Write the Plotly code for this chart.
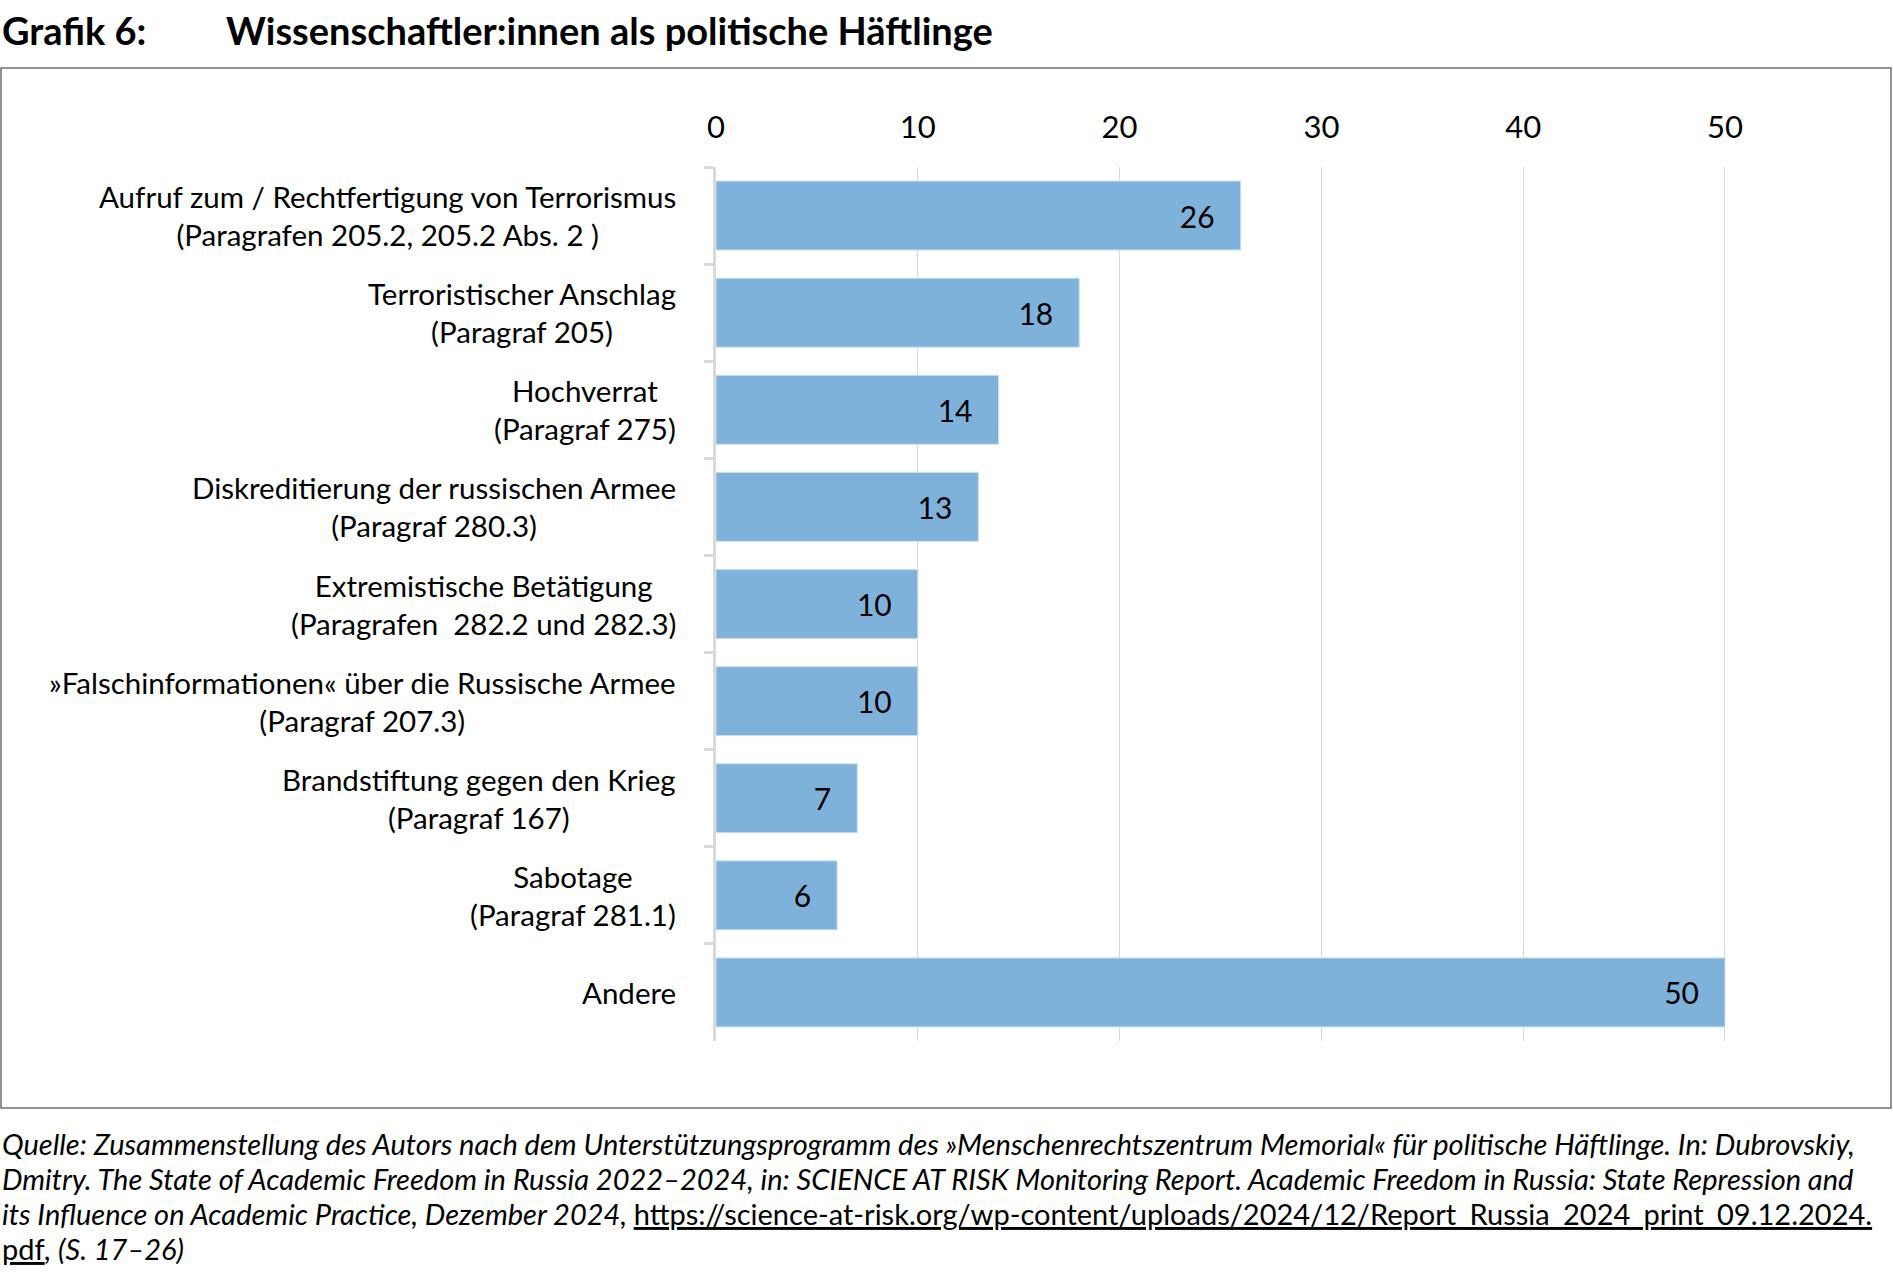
import plotly.graph_objects as go

categories = [
    "Aufruf zum / Rechtfertigung von Terrorismus<br>(Paragrafen 205.2, 205.2 Abs. 2 )",
    "Terroristischer Anschlag<br>(Paragraf 205)",
    "Hochverrat<br>(Paragraf 275)",
    "Diskreditierung der russischen Armee<br>(Paragraf 280.3)",
    "Extremistische Betätigung<br>(Paragrafen\u00a0 282.2 und 282.3)",
    "»Falschinformationen« über die Russische Armee<br>(Paragraf 207.3)",
    "Brandstiftung gegen den Krieg<br>(Paragraf 167)",
    "Sabotage<br>(Paragraf 281.1)",
    "Andere",
]
values = [26, 18, 14, 13, 10, 10, 7, 6, 50]
x_ticks = [0, 10, 20, 30, 40, 50]

title_prefix = "Grafik 6:"
title_text = "Wissenschaftler:innen als politische Häftlinge"
source_lines = [
    "<i>Quelle: Zusammenstellung des Autors nach dem Unterstützungsprogramm des »Menschenrechtszentrum Memorial« für politische Häftlinge. In: Dubrovskiy,</i>",
    "<i>Dmitry. The State of Academic Freedom in Russia 2022–2024, in: SCIENCE AT RISK Monitoring Report. Academic Freedom in Russia: State Repression and</i>",
    "<i>its Influence on Academic Practice, Dezember 2024, </i><span style=\"text-decoration:underline\">https://science-at-risk.org/wp-content/uploads/2024/12/Report_Russia_2024_print_09.12.2024.</span>",
    "<span style=\"text-decoration:underline\">pdf</span><i>, (S. 17–26)</i>",
]

W, H = 1893, 1277
ML, MR, MT, MB = 716, 167, 167, 236
PW, PH = W - ML - MR, H - MT - MB


def px(x):
    return (x - ML) / PW


def py(y):
    return (H - MB - y) / PH


FONT = "Lato, 'Open Sans', sans-serif"
BAR = "#7fb2da"
GRID = "#d9d9d9"
LABEL_SIZE = 29.5

fig = go.Figure(
    go.Bar(
        x=values,
        y=categories,
        orientation="h",
        marker=dict(color=BAR, line=dict(color="#c9dff0", width=1)),
        texttemplate="%{x}\u00a0\u00a0\u00a0",
        textposition="inside",
        insidetextanchor="end",
        textfont=dict(family=FONT, size=30, color="black"),
        width=0.71,
        hoverinfo="skip",
    )
)

annotations = []
for c in categories:
    annotations.append(dict(
        x=0, y=c, xref="x", yref="y", text=c, showarrow=False,
        xanchor="right", yanchor="middle", align="center", xshift=-38,
        font=dict(family=FONT, size=LABEL_SIZE, color="black"),
    ))

annotations.append(dict(
    x=px(0), y=py(30), xref="paper", yref="paper", text="<b>" + title_prefix + "</b>",
    showarrow=False, xanchor="left", yanchor="middle",
    font=dict(family=FONT, size=38, color="black"),
))
annotations.append(dict(
    x=px(224), y=py(30), xref="paper", yref="paper", text="<b>" + title_text + "</b>",
    showarrow=False, xanchor="left", yanchor="middle",
    font=dict(family=FONT, size=38, color="black"),
))
for k, ln in enumerate(source_lines):
    annotations.append(dict(
        x=px(0), y=py(1143.5 + 35 * k), xref="paper", yref="paper", text=ln,
        showarrow=False, xanchor="left", yanchor="middle", align="left",
        font=dict(family=FONT, size=29, color="black"),
    ))

shapes = [dict(
    type="rect", xref="paper", yref="paper",
    x0=px(1), x1=px(1891), y0=py(68), y1=py(1108),
    line=dict(color="#6f6f6f", width=1.5), layer="below",
)]

fig.update_layout(
    width=W, height=H,
    margin=dict(l=ML, r=MR, t=MT, b=MB, autoexpand=False),
    paper_bgcolor="white", plot_bgcolor="white",
    showlegend=False,
    annotations=annotations,
    shapes=shapes,
    bargap=0.29,
    xaxis=dict(
        side="top", range=[0, 50.05], tickvals=x_ticks,
        showgrid=True, gridcolor=GRID, gridwidth=1.3,
        zeroline=False, showline=False, ticks="",
        tickfont=dict(family=FONT, size=31, color="black"),
        ticklabelstandoff=22,
    ),
    yaxis=dict(
        autorange="reversed", showticklabels=False,
        showline=True, linecolor=GRID, linewidth=3,
        ticks="outside", tickson="boundaries", ticklen=9, tickcolor=GRID, tickwidth=3,
        showgrid=False, zeroline=False,
    ),
)

fig.write_html(
    "out.html",
    config={"displayModeBar": False},
    post_script="document.body.style.margin='0px';document.body.style.overflow='hidden';",
)
